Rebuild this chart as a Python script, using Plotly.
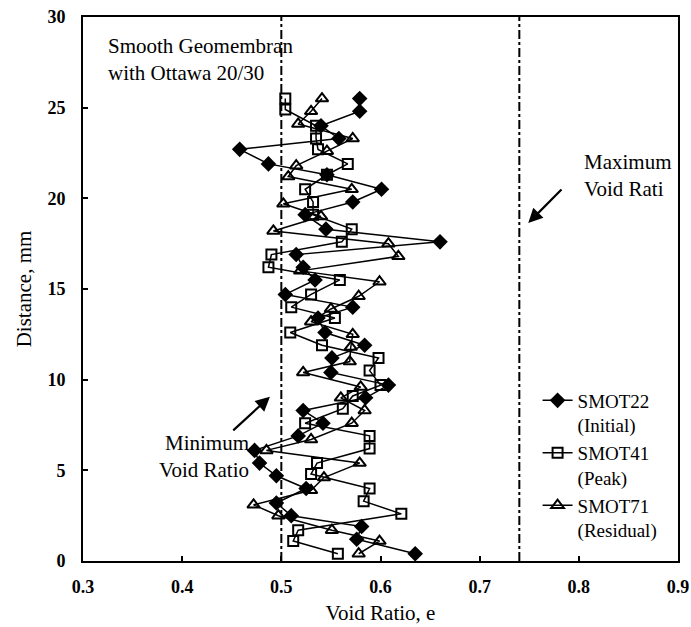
import plotly.graph_objects as go

# ---- data ----
smot22_e = [0.579, 0.579, 0.540, 0.558, 0.458, 0.487, 0.546, 0.601, 0.572, 0.524,
            0.545, 0.660, 0.515, 0.522, 0.534, 0.504, 0.572, 0.537, 0.544, 0.584,
            0.551, 0.550, 0.608, 0.585, 0.522, 0.542, 0.517, 0.473, 0.478, 0.495,
            0.525, 0.495, 0.510, 0.581, 0.576, 0.635]
smot22_d = [25.5, 24.8, 24.0, 23.3, 22.7, 21.9, 21.3, 20.5, 19.8, 19.1,
            18.3, 17.6, 16.9, 16.2, 15.5, 14.7, 14.0, 13.4, 12.6, 11.9,
            11.2, 10.4, 9.7, 9.0, 8.3, 7.6, 6.9, 6.1, 5.4, 4.7,
            4.0, 3.2, 2.5, 1.9, 1.2, 0.4]

smot41_e = [0.504, 0.504, 0.535, 0.535, 0.537, 0.567, 0.546, 0.524, 0.532, 0.532,
            0.571, 0.561, 0.490, 0.487, 0.559, 0.530, 0.510, 0.554, 0.509, 0.541,
            0.598, 0.589, 0.600, 0.572, 0.562, 0.524, 0.589, 0.589, 0.536, 0.530,
            0.589, 0.583, 0.621, 0.517, 0.512, 0.557]
smot41_d = [25.5, 24.9, 24.0, 23.3, 22.7, 21.9, 21.3, 20.5, 19.8, 19.1,
            18.3, 17.6, 16.9, 16.2, 15.5, 14.7, 14.0, 13.4, 12.6, 11.9,
            11.2, 10.5, 9.7, 9.1, 8.4, 7.6, 6.9, 6.2, 5.4, 4.8,
            4.0, 3.3, 2.6, 1.7, 1.1, 0.4]

smot71_e = [0.541, 0.530, 0.517, 0.572, 0.546, 0.515, 0.507, 0.571, 0.502, 0.540,
            0.492, 0.608, 0.618, 0.519, 0.599, 0.578, 0.550, 0.530, 0.572, 0.570,
            0.569, 0.522, 0.580, 0.560, 0.584, 0.571, 0.530, 0.485, 0.579, 0.543,
            0.530, 0.472, 0.497, 0.551, 0.599, 0.578]
smot71_d = [25.5, 24.8, 24.1, 23.3, 22.6, 21.8, 21.2, 20.5, 19.7, 19.0,
            18.2, 17.5, 16.8, 16.0, 15.4, 14.6, 13.9, 13.2, 12.5, 11.8,
            11.0, 10.4, 9.6, 9.0, 8.3, 7.6, 6.7, 6.1, 5.4, 4.6,
            3.9, 3.1, 2.5, 1.7, 1.1, 0.4]

e_min = 0.50
e_max = 0.74

x_ticks = [0.3, 0.4, 0.5, 0.6, 0.7, 0.8, 0.9]
y_ticks = [0, 5, 10, 15, 20, 25, 30]

FONT = "Liberation Serif"

fig = go.Figure()
fig.add_trace(go.Scatter(
    x=smot22_e, y=smot22_d, mode="lines+markers", name="SMOT22<br>(Initial)",
    line=dict(color="black", width=1.5),
    marker=dict(symbol="diamond", size=12, color="black")))
fig.add_trace(go.Scatter(
    x=smot41_e, y=smot41_d, mode="lines+markers", name="SMOT41<br>(Peak)",
    line=dict(color="black", width=1.5),
    marker=dict(symbol="square-open", size=10, color="black", line=dict(width=2))))
fig.add_trace(go.Scatter(
    x=smot71_e, y=smot71_d, mode="lines+markers", name="SMOT71<br>(Residual)",
    line=dict(color="black", width=1.5),
    marker=dict(symbol="triangle-up-open", size=11, color="black", line=dict(width=2))))

for xv in (e_min, e_max):
    fig.add_shape(type="line", xref="x", yref="y", x0=xv, x1=xv, y0=0, y1=30,
                  line=dict(color="black", width=2, dash="dashdot"))

fig.add_annotation(x=0.323, y=29.2, xref="x", yref="y", xanchor="left", yanchor="top",
                   align="left", showarrow=False,
                   text="Smooth Geomembran<br>with Ottawa 20/30",
                   font=dict(family=FONT, size=21, color="black"))
fig.add_annotation(x=0.803, y=22.8, xref="x", yref="y", xanchor="left", yanchor="top",
                   align="left", showarrow=False,
                   text="Maximum<br>Void Rati",
                   font=dict(family=FONT, size=21, color="black"))
fig.add_annotation(x=0.469, y=7.3, xref="x", yref="y", xanchor="right", yanchor="top",
                   align="right", showarrow=False,
                   text="Minimum<br>Void Ratio",
                   font=dict(family=FONT, size=21, color="black"))
# arrows
fig.add_annotation(x=0.749, y=18.64, ax=0.784, ay=20.57, xref="x", yref="y",
                   axref="x", ayref="y", text="", showarrow=True,
                   arrowhead=2, arrowsize=1.3, arrowwidth=2.2, arrowcolor="black")
fig.add_annotation(x=0.4885, y=9.06, ax=0.450, ay=7.13, xref="x", yref="y",
                   axref="x", ayref="y", text="", showarrow=True,
                   arrowhead=2, arrowsize=1.3, arrowwidth=2.2, arrowcolor="black")

axis_common = dict(showline=True, linecolor="black", linewidth=2, mirror=True,
                   showgrid=False, zeroline=False, ticks="inside", ticklen=5,
                   tickwidth=1.5, tickcolor="black", automargin=False,
                   tickfont=dict(family=FONT, size=18, color="black", weight="bold"))

fig.update_xaxes(range=[0.3, 0.9], tickvals=x_ticks,
                 ticktext=[f"{v:.1f}" for v in x_ticks],
                 ticklabelstandoff=8,
                 title=dict(text="Void Ratio, e", font=dict(family=FONT, size=21, color="black"),
                            standoff=10),
                 **axis_common)
fig.update_yaxes(range=[0, 30], tickvals=y_ticks,
                 ticktext=[str(v) for v in y_ticks],
                 ticklabelstandoff=12,
                 title=dict(text="Distance, mm", font=dict(family=FONT, size=21, color="black"),
                            standoff=10),
                 **axis_common)

fig.update_layout(
    width=691, height=627,
    margin=dict(l=83, r=13, t=17, b=66, autoexpand=False),
    paper_bgcolor="white", plot_bgcolor="white",
    showlegend=True,
    legend=dict(x=0.764, y=0.33, xanchor="left", yanchor="top",
                bgcolor="rgba(0,0,0,0)", valign="top", tracegroupgap=0,
                font=dict(family=FONT, size=19, color="black")),
)

fig.write_html("out.html")
